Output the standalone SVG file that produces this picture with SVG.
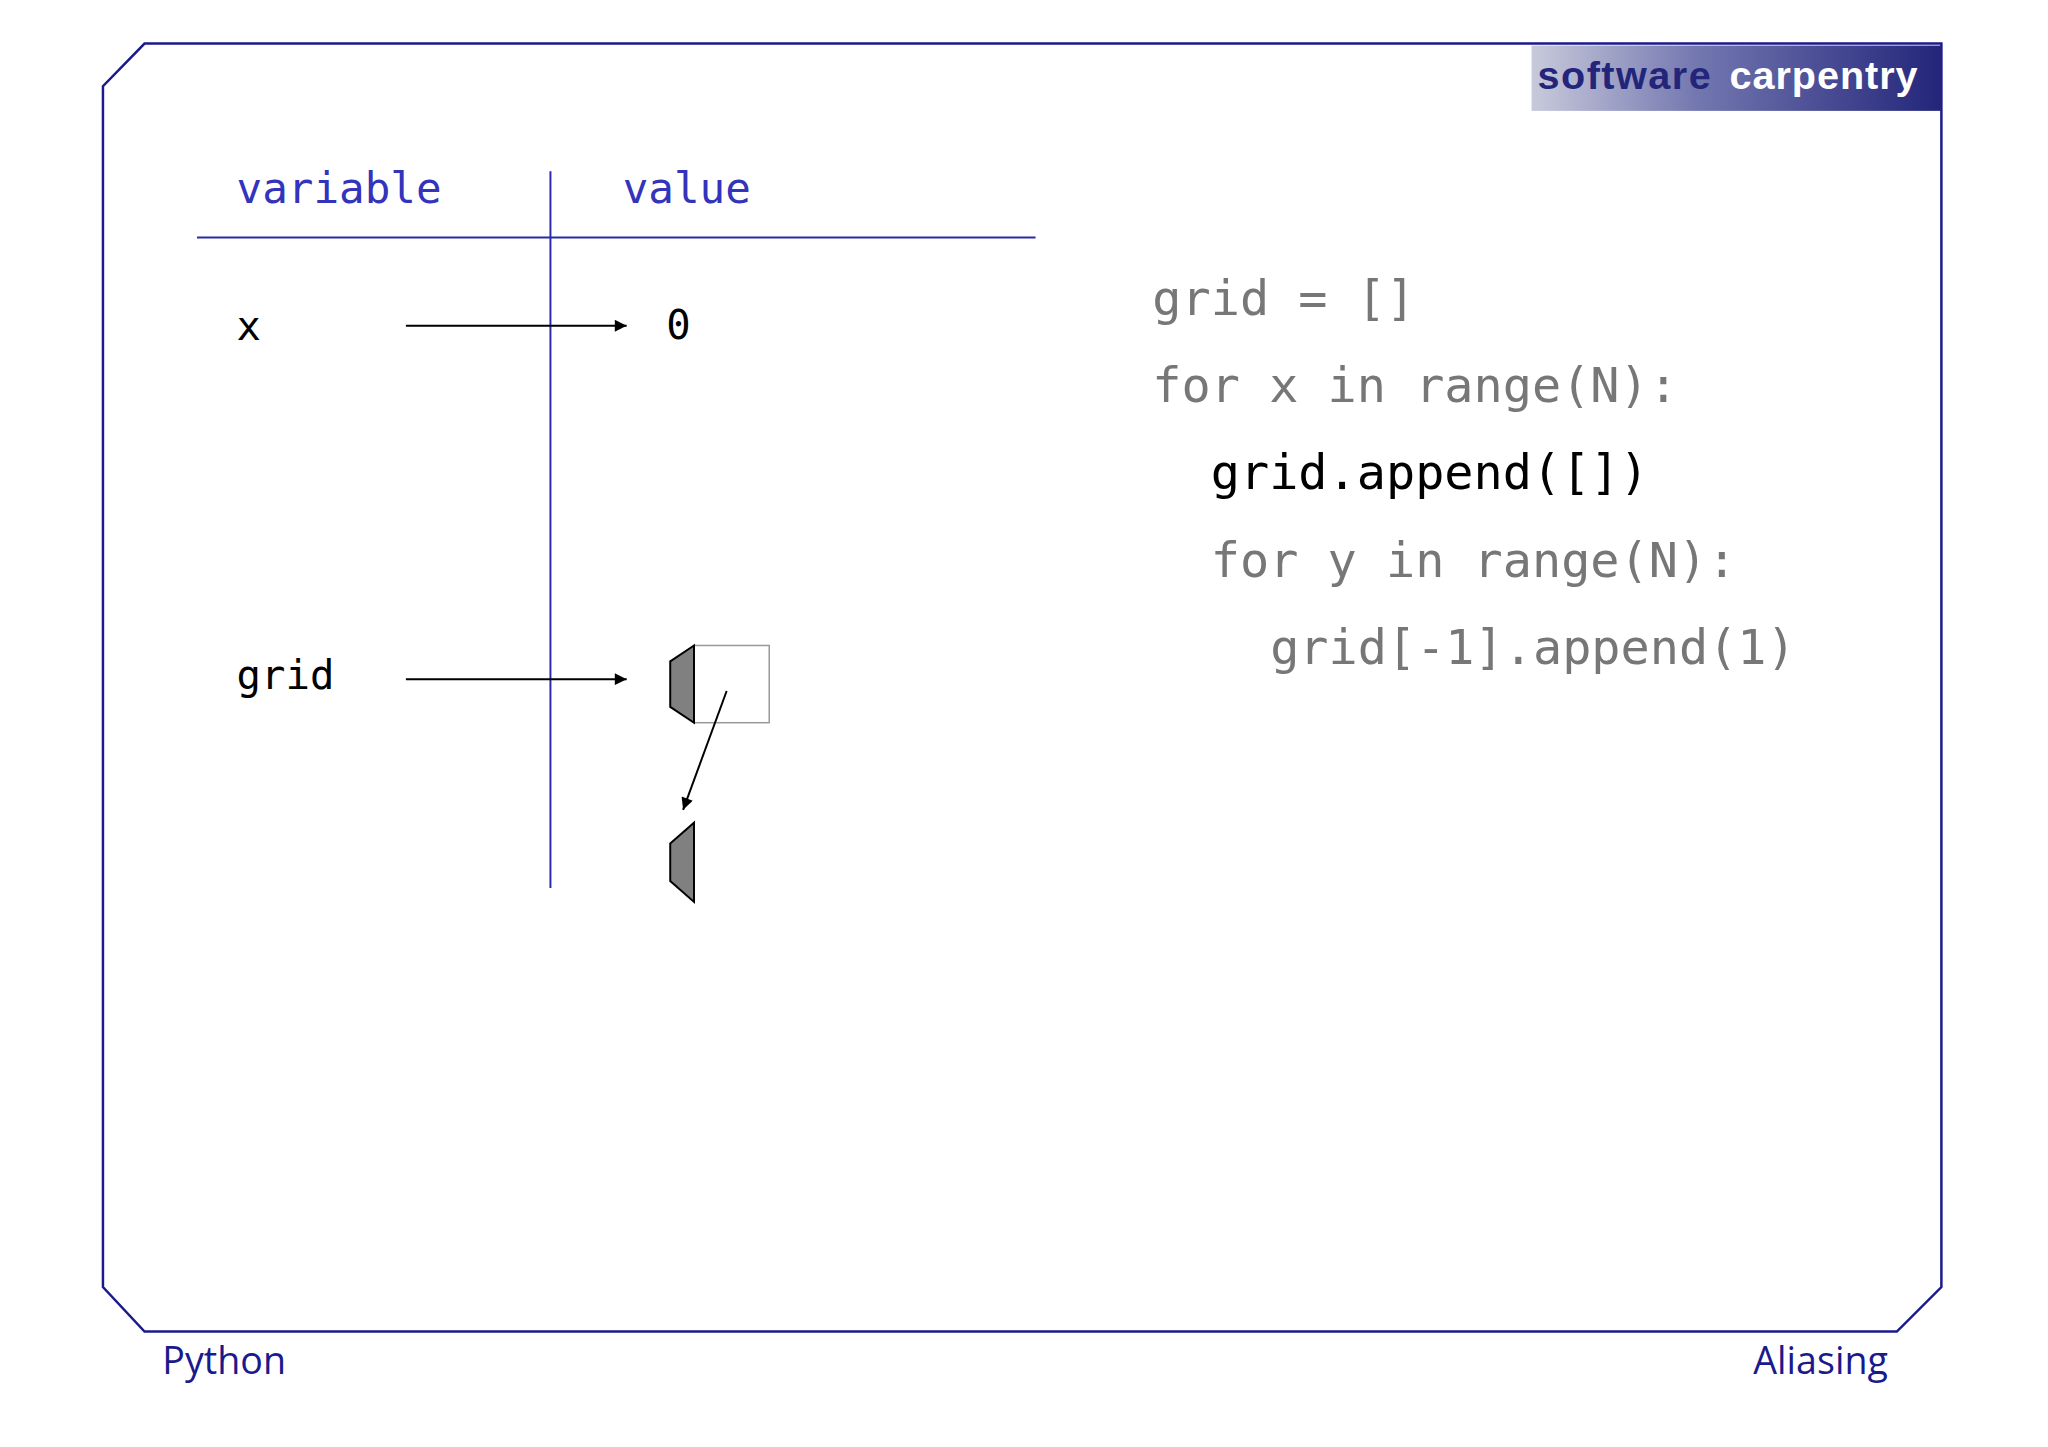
<svg xmlns="http://www.w3.org/2000/svg" width="2048" height="1447" viewBox="0 0 2048 1447">
<defs>
<marker id="ah" viewBox="0 0 10 10" refX="10" refY="5" markerWidth="7" markerHeight="6" orient="auto"><path d="M0,0L10,5L0,10z" fill="#000"/></marker>
<linearGradient id="lg" x1="0" x2="1"><stop offset="0" stop-color="#c8cadb"/><stop offset="0.4" stop-color="#7478b0"/><stop offset="1" stop-color="#23257a"/></linearGradient>
<style>
.mono{font-family:"DejaVu Sans Mono",monospace}
.hd{font-size:43px;fill:#3333bb}
.lb{font-size:41px;fill:#000}
.code{font-size:49px;fill:#777}
.ft{font-family:"Open Sans","Noto Sans",sans-serif;font-size:38px;fill:#1a1a8c}
.blue{stroke:#2a2aa8;stroke-width:2;fill:none}
.cell{fill:#808080;stroke:#000;stroke-width:2}
</style>
</defs>
<rect width="2048" height="1447" fill="#fff"/>
<g transform="scale(0.99)">
<g id="frame">
<path d="M146,44L1961,44L1961,1300L1916,1345L146,1345L104,1300L104,87Z" fill="none" stroke="#1a1a8c" stroke-width="2.5"/>
</g>
<g id="logo">
<rect x="1547" y="46" width="414" height="66" fill="url(#lg)"/>
<text x="1553" y="90" font-family="Liberation Sans,sans-serif" font-weight="bold" font-size="40" fill="#23257a" textLength="175">software</text>
<text x="1747" y="90" font-family="Liberation Sans,sans-serif" font-weight="bold" font-size="40" fill="#fff" textLength="190">carpentry</text>
</g>
<g id="table">
<text class="mono hd" x="239" y="205">variable</text>
<text class="mono hd" x="629" y="205">value</text>
<line class="blue" x1="199" y1="240" x2="1046" y2="240"/>
<line class="blue" x1="556" y1="173" x2="556" y2="897"/>
</g>
<g id="x"><text class="mono lb" x="239" y="343">x</text></g>
<g id="zero"><text class="mono lb" x="673" y="342">0</text></g>
<g id="grid"><text class="mono lb" x="239" y="696">grid</text></g>
<g id="list1">
<rect x="701" y="652" width="76" height="78" fill="none" stroke="#999" stroke-width="1.5"/>
<polygon class="cell" points="677,668 701,652 701,730 677,714"/>
</g>
<g id="list2">
<polygon class="cell" points="677,852 701,831 701,911 677,890"/>
</g>
<g id="connectors" stroke="#000" stroke-width="2" fill="none">
<line x1="410" y1="329" x2="633" y2="329" marker-end="url(#ah)"/>
<line x1="410" y1="686" x2="633" y2="686" marker-end="url(#ah)"/>
<line x1="734" y1="698" x2="690" y2="818" marker-end="url(#ah)"/>
</g>
<g id="code">
<text class="mono code" x="1164" y="318">grid = []</text>
<text class="mono code" x="1164" y="406">for x in range(N):</text>
<text class="mono code" x="1223" y="494" style="fill:#000">grid.append([])</text>
<text class="mono code" x="1223" y="583">for y in range(N):</text>
<text class="mono code" x="1283" y="671">grid[-1].append(1)</text>
</g>
<g id="footer">
<text class="ft" x="164" y="1388">Python</text>
<text class="ft" x="1907" y="1388" text-anchor="end">Aliasing</text>
</g>
</g>
</svg>
